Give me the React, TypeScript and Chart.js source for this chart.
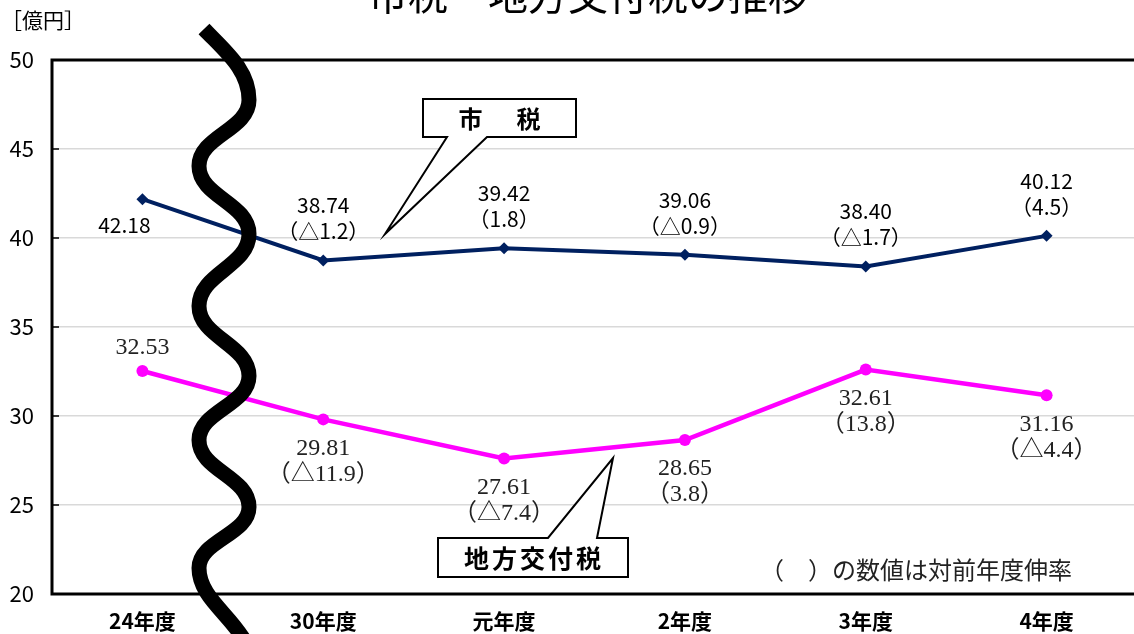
import React, { useEffect, useRef } from "react";
import { Chart, registerables } from "chart.js";

Chart.register(...registerables);

const categories = ["24年度", "30年度", "元年度", "2年度", "3年度", "4年度"];
const cityTax = [42.18, 38.74, 39.42, 39.06, 38.4, 40.12];
const cityTaxChange = ["", "（△1.2）", "（1.8）", "（△0.9）", "（△1.7）", "（4.5）"];
const allocTax = [32.53, 29.81, 27.61, 28.65, 32.61, 31.16];
const allocTaxChange = ["", "（△11.9）", "（△7.4）", "（3.8）", "（13.8）", "（△4.4）"];
const yTicks = [20, 25, 30, 35, 40, 45, 50];

const titleText = "市税・地方交付税の推移";
const unitText = "［億円］";
const noteText = "（　）の数値は対前年度伸率";
const cityTaxName = "市　税";
const allocTaxName = "地方交付税";

const SANS = "'Noto Sans CJK JP', 'Noto Sans', sans-serif";
const SERIF = "'Liberation Serif', 'Noto Sans CJK JP', serif";
const NAVY = "#002060";
const PINK = "#FF00FF";

const decor = {
  id: "decor",
  beforeDatasetsDraw(chart: any) {
    const { ctx, chartArea: a, scales } = chart;
    const y = scales.y;
    ctx.save();
    ctx.strokeStyle = "#000";
    ctx.lineWidth = 1.5;
    yTicks.forEach((v) => {
      const py = y.getPixelForValue(v);
      ctx.beginPath();
      ctx.moveTo(a.left, py);
      ctx.lineTo(a.left + 7, py);
      ctx.stroke();
    });
    ctx.lineWidth = 3;
    ctx.strokeRect(a.left, a.top, a.right - a.left, a.bottom - a.top);
    ctx.restore();
  },
  afterDatasetsDraw(chart: any) {
    const { ctx } = chart;
    const m0 = chart.getDatasetMeta(0).data;
    const m1 = chart.getDatasetMeta(1).data;
    ctx.save();
    ctx.textAlign = "center";
    ctx.textBaseline = "middle";
    // city tax labels
    ctx.fillStyle = "#000";
    ctx.font = `21px ${SANS}`;
    cityTax.forEach((v, i) => {
      const p = m0[i];
      if (i === 0) {
        ctx.fillText(v.toFixed(2), p.x - 18, p.y + 26);
      } else {
        ctx.fillText(v.toFixed(2), p.x, p.y - 55);
        ctx.fillText(cityTaxChange[i], p.x, p.y - 29);
      }
    });
    // allocation tax labels
    ctx.fillStyle = "#222";
    ctx.font = `24px ${SERIF}`;
    allocTax.forEach((v, i) => {
      const p = m1[i];
      if (i === 0) {
        ctx.fillText(v.toFixed(2), p.x, p.y - 23);
      } else {
        ctx.fillText(v.toFixed(2), p.x, p.y + 29);
        ctx.fillText(allocTaxChange[i], p.x, p.y + 55);
      }
    });

    // callouts
    ctx.lineWidth = 2;
    ctx.strokeStyle = "#000";
    ctx.fillStyle = "#fff";
    ctx.beginPath();
    ctx.moveTo(423, 99);
    ctx.lineTo(576, 99);
    ctx.lineTo(576, 137);
    ctx.lineTo(487, 137);
    ctx.lineTo(385, 234);
    ctx.lineTo(447, 137);
    ctx.lineTo(423, 137);
    ctx.closePath();
    ctx.fill();
    ctx.stroke();

    ctx.beginPath();
    ctx.moveTo(438, 538);
    ctx.lineTo(548, 538);
    ctx.lineTo(613, 458);
    ctx.lineTo(597, 538);
    ctx.lineTo(628, 538);
    ctx.lineTo(628, 577);
    ctx.lineTo(438, 577);
    ctx.closePath();
    ctx.fill();
    ctx.stroke();

    ctx.fillStyle = "#000";
    ctx.font = `bold 24px ${SANS}`;
    (ctx as any).letterSpacing = "5px";
    ctx.fillText(cityTaxName, 502, 119);
    (ctx as any).letterSpacing = "3px";
    ctx.font = `bold 25px ${SANS}`;
    ctx.fillText(allocTaxName, 534, 558);
    (ctx as any).letterSpacing = "0px";
    ctx.restore();
  },
  afterDraw(chart: any) {
    const { ctx } = chart;
    ctx.save();
    // title (partly clipped at top, as in the reference)
    ctx.fillStyle = "#000";
    ctx.textAlign = "center";
    ctx.textBaseline = "alphabetic";
    ctx.font = `40px ${SANS}`;
    ctx.fillText(titleText, 588, 10);
    // unit
    ctx.textAlign = "left";
    ctx.textBaseline = "middle";
    ctx.font = `21px ${SANS}`;
    ctx.fillText(unitText, 1, 20);
    // note
    ctx.fillStyle = "#222";
    ctx.textAlign = "right";
    ctx.font = `24px ${SANS}`;
    ctx.fillText(noteText, 1072, 570);

    // break mark (wavy line)
    const R = 249;
    const L = 199;
    const ext = [
      [R, 100],
      [L, 166],
      [R, 234],
      [L, 306],
      [R, 376],
      [L, 440],
      [R, 507],
      [L, 568],
    ];
    ctx.strokeStyle = "#000";
    ctx.lineWidth = 15;
    ctx.lineCap = "butt";
    ctx.lineJoin = "round";
    ctx.beginPath();
    ctx.moveTo(204, 29);
    ctx.bezierCurveTo(226, 52, R, 70, R, 100);
    const k = 0.45;
    for (let i = 0; i < ext.length - 1; i++) {
      const [x1, y1] = ext[i];
      const [x2, y2] = ext[i + 1];
      const dy = y2 - y1;
      ctx.bezierCurveTo(x1, y1 + k * dy, x2, y2 - k * dy, x2, y2);
    }
    ctx.bezierCurveTo(L, 598, 232, 615, 247, 645);
    ctx.stroke();
    ctx.restore();
  },
};

export default function App() {
  const ref = useRef<HTMLCanvasElement | null>(null);
  useEffect(() => {
    if (!ref.current) return;
    const chart = new Chart(ref.current, {
      type: "line",
      data: {
        labels: categories,
        datasets: [
          {
            label: "市税",
            data: cityTax,
            borderColor: NAVY,
            backgroundColor: NAVY,
            borderWidth: 4,
            pointStyle: "rectRot",
            pointRadius: 6,
            pointBorderWidth: 0,
            tension: 0,
          },
          {
            label: "地方交付税",
            data: allocTax,
            borderColor: PINK,
            backgroundColor: PINK,
            borderWidth: 4.5,
            pointStyle: "circle",
            pointRadius: 6,
            pointBorderWidth: 0,
            tension: 0,
          },
        ],
      },
      options: {
        responsive: false,
        animation: false,
        devicePixelRatio: 1,
        layout: { padding: { top: 60, left: 0, right: 1, bottom: 0 } },
        plugins: {
          legend: { display: false },
          tooltip: { enabled: false },
          title: { display: false },
        },
        scales: {
          x: {
            type: "category",
            offset: true,
            grid: { display: false },
            border: { display: false },
            ticks: {
              color: "#000",
              font: { family: SANS, size: 21, weight: "bold" },
              padding: 6,
              maxRotation: 0,
              autoSkip: false,
            },
            afterFit: (s: any) => {
              s.height = 40;
            },
          },
          y: {
            min: 20,
            max: 50,
            ticks: {
              stepSize: 5,
              color: "#000",
              font: { family: SANS, size: 22 },
              padding: 18,
            },
            grid: {
              color: (c: any) =>
                c.tick && (c.tick.value === 20 || c.tick.value === 50)
                  ? "rgba(0,0,0,0)"
                  : "#d9d9d9",
              lineWidth: 1.5,
              drawTicks: false,
            },
            border: { display: false },
            afterFit: (s: any) => {
              s.width = 52;
            },
          },
        },
      },
      plugins: [decor],
    });
    return () => chart.destroy();
  }, []);

  return (
    <div
      style={{
        position: "absolute",
        left: 0,
        top: 0,
        width: 1134,
        height: 634,
        overflow: "hidden",
        background: "#fff",
      }}
    >
      <canvas
        ref={ref}
        width={1143}
        height={634}
        style={{ display: "block", width: 1143, height: 634 }}
      />
    </div>
  );
}
